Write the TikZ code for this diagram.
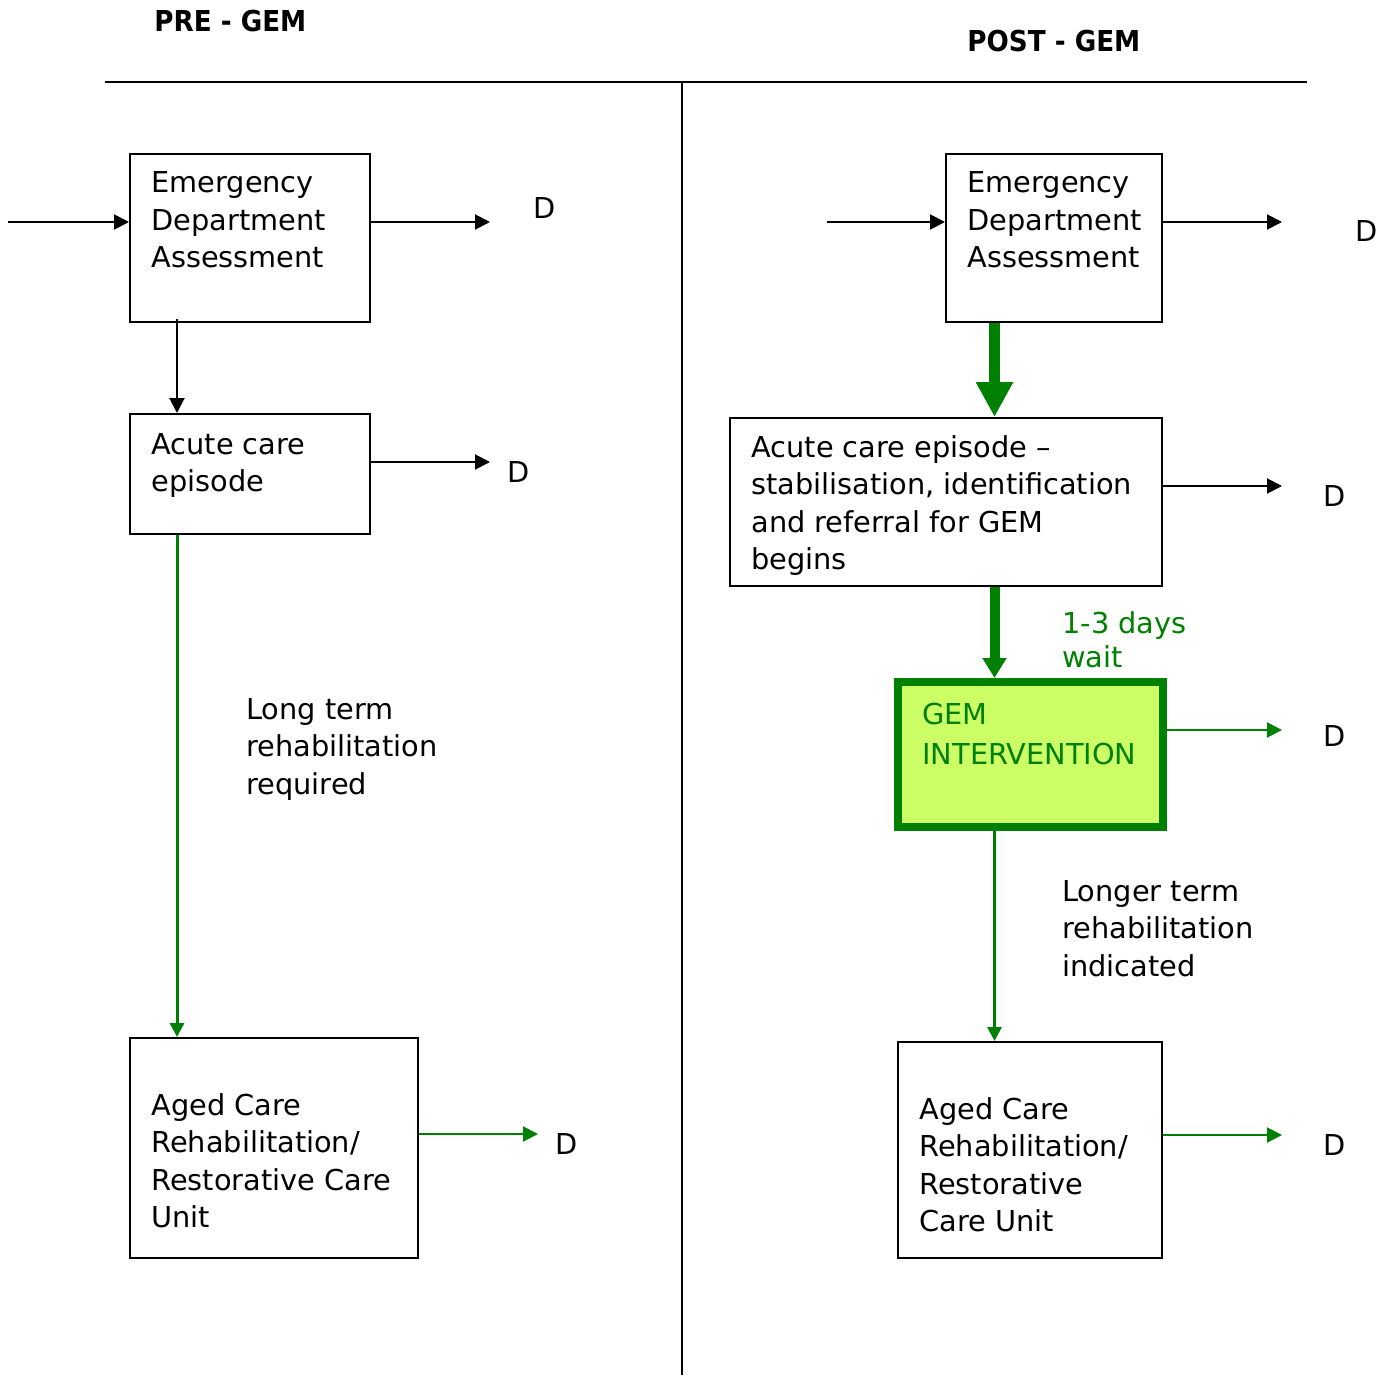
\documentclass[tikz,border=0pt]{standalone}
\usepackage{fontspec}
\setmainfont{DejaVu Sans}[BoldFeatures={FakeStretch=0.91}]
\usetikzlibrary{arrows.meta,fit}
\definecolor{gr}{RGB}{0,128,0}
\definecolor{gemfill}{RGB}{204,255,102}
\newcommand\fsz{\fontsize{14.4}{18.75}\selectfont}
\tikzset{
  box/.style={draw=black, line width=1pt, inner sep=0pt},
  gembox/.style={draw=gr, fill=gemfill, line width=4pt, inner sep=0pt},
  txt/.style={inner sep=0pt, anchor=base west, font=\fsz},
  dlab/.style={inner sep=0pt, anchor=base, font=\fsz},
  hdr/.style={inner sep=0pt, anchor=base west, font=\fsz\bfseries},
  blkarrow/.style={line width=1pt, -{Triangle[length=7.5pt,width=7.5pt]}},
  grarrow/.style={draw=gr, line width=1pt, -{Triangle[length=7.5pt,width=7.5pt,fill=gr]}},
  grlong/.style={draw=gr, line width=1.5pt, -{Triangle[length=7pt,width=7pt,fill=gr]}},
  rule/.style={line width=1pt}
}
\begin{document}
\begin{tikzpicture}[x=0.5pt,y=-0.5pt]
\useasboundingbox (0,0) rectangle (1391,1375);

% headers and dividers
\node[hdr] (pre) at (154,32) {PRE - GEM};
\node[hdr] (post) at (967,52) {POST - GEM};
\coordinate (hl) at (105,82);
\coordinate (hr) at (1307,82);
\coordinate (vt) at (682,82);
\coordinate (vb) at (682,1375);
\draw[rule] (hl) -- (hr);
\draw[rule] (vt) -- (vb);

% ---------- PRE-GEM ----------
\node[box, fit={(130,154)(370,322)}] (edL) {};
\node[txt] (edLt) at (151,193) {\vtop{\hbox{Emergency}\hbox{Department}\hbox{Assessment}}};
\node[box, fit={(130,414)(370,534)}] (acL) {};
\node[txt] (acLt) at (151,454) {\vtop{\hbox{Acute care}\hbox{episode}}};
\node[box, fit={(130,1038)(418,1258)}] (agL) {};
\node[txt] (agLt) at (151,1115) {\vtop{\hbox{Aged Care}\hbox{Rehabilitation/}\hbox{Restorative Care}\hbox{Unit}}};
\node[txt] (ltL) at (246,719) {\vtop{\hbox{Long term}\hbox{rehabilitation}\hbox{required}}};

\node[dlab] (dL1) at (545,219) {D};
\node[dlab] (dL2) at (519,482) {D};
\node[dlab] (dL3) at (567,1154) {D};

\coordinate (inL) at (8,222);
\coordinate (oL1) at (490,222);
\coordinate (oL2) at (490,462);
\coordinate (oL3) at (538,1134);
\draw[blkarrow] (inL) -- (inL -| edL.west);
\draw[blkarrow] (oL1 -| edL.east) -- (oL1);
\draw[blkarrow] (oL2 -| acL.east) -- (oL2);
\draw[grarrow] (oL3 -| agL.east) -- (oL3);
\draw[blkarrow] ([xshift=24pt,yshift=2pt]edL.south west) -- ([xshift=24pt]acL.north west);
\draw[grlong] ([xshift=24pt]acL.south west) -- ([xshift=24pt]agL.north west);

% ---------- POST-GEM ----------
\node[box, fit={(946,154)(1162,322)}] (edR) {};
\node[txt] (edRt) at (967,193) {\vtop{\hbox{Emergency}\hbox{Department}\hbox{Assessment}}};
\node[box, fit={(730,418)(1162,586)}] (acR) {};
\node[txt] (acRt) at (751,457) {\vtop{\hbox{Acute care episode –}\hbox{stabilisation, identification}\hbox{and referral for GEM}\hbox{begins}}};
\node[gembox, fit={(898,682)(1163,827)}] (gem) {};
\node[txt, text=gr] (gemt) at (922,724) {\vtop{\baselineskip=20pt\hbox{GEM}\hbox{INTERVENTION}}};
\node[box, fit={(898,1042)(1162,1258)}] (agR) {};
\node[txt] (agRt) at (919,1119) {\vtop{\hbox{Aged Care}\hbox{Rehabilitation/}\hbox{Restorative}\hbox{Care Unit}}};
\node[txt, text=gr] (wait) at (1062,633) {\vtop{\baselineskip=17pt\hbox{1-3 days}\hbox{wait}}};
\node[txt] (ltR) at (1062,901) {\vtop{\hbox{Longer term}\hbox{rehabilitation}\hbox{indicated}}};

\node[dlab] (dR1) at (1367,242) {D};
\node[dlab] (dR2) at (1335,506) {D};
\node[dlab] (dR3) at (1335,746) {D};
\node[dlab] (dR4) at (1335,1155) {D};

\coordinate (inR) at (827,222);
\coordinate (oR1) at (1282,222);
\coordinate (oR2) at (1282,486);
\coordinate (oR3) at (1282,730);
\coordinate (oR4) at (1282,1135);
\draw[blkarrow] (inR) -- (inR -| edR.west);
\draw[blkarrow] (oR1 -| edR.east) -- (oR1);
\draw[blkarrow] (oR2 -| acR.east) -- (oR2);
\draw[grarrow] (oR3 -| gem.east) -- (oR3);
\draw[grarrow] (oR4 -| agR.east) -- (oR4);

\coordinate (xc) at (994.5,0);
\draw[draw=gr, line width=5.5pt, -{Triangle[length=17.5pt,width=17.5pt,fill=gr]}]
  (edR.south -| xc) -- (acR.north -| xc);
\draw[draw=gr, line width=5pt, -{Triangle[length=10pt,width=11.5pt,fill=gr]}]
  (acR.south -| xc) -- (gem.north -| xc);
\draw[grlong] (gem.south -| xc) -- (agR.north -| xc);
\end{tikzpicture}
\end{document}
